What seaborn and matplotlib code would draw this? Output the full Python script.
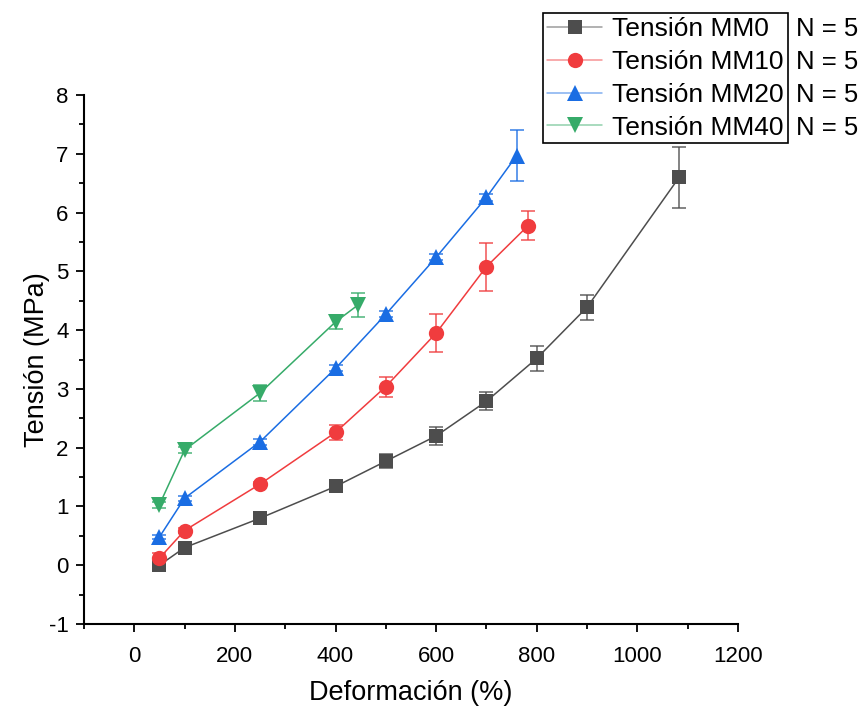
import numpy as np
import pandas as pd
import matplotlib
matplotlib.use("Agg")
import matplotlib.pyplot as plt
from matplotlib.ticker import MultipleLocator
from matplotlib.colors import to_rgb
import seaborn as sns

# Stress-strain means and standard deviations for each blend
mm0_x = [50, 100, 250, 400, 500, 600, 700, 800, 900, 1083]
mm0_y = [0.00, 0.30, 0.80, 1.34, 1.77, 2.20, 2.79, 3.52, 4.39, 6.60]
mm0_err = [0.03, 0.03, 0.04, 0.05, 0.12, 0.15, 0.155, 0.21, 0.21, 0.52]

mm10_x = [50, 100, 250, 400, 500, 600, 700, 783]
mm10_y = [0.12, 0.59, 1.38, 2.26, 3.04, 3.95, 5.08, 5.78]
mm10_err = [0.08, 0.04, 0.04, 0.13, 0.17, 0.32, 0.41, 0.24]

mm20_x = [50, 100, 250, 400, 500, 600, 700, 760]
mm20_y = [0.48, 1.14, 2.10, 3.35, 4.27, 5.24, 6.26, 6.97]
mm20_err = [0.04, 0.04, 0.05, 0.05, 0.05, 0.05, 0.06, 0.44]

mm40_x = [50, 100, 250, 400, 445]
mm40_y = [1.03, 1.96, 2.93, 4.14, 4.43]
mm40_err = [0.05, 0.05, 0.13, 0.12, 0.21]

labels = ["Tensión MM0", "Tensión MM10", "Tensión MM20", "Tensión MM40"]
sample_sizes = [5, 5, 5, 5]
colors = ["#4d4d4d", "#f03c3e", "#1a6de3", "#36ab69"]
markers = ["s", "o", "^", "v"]
msizes = [9.5, 11, 12, 12]

series = [
    (mm0_x, mm0_y, mm0_err),
    (mm10_x, mm10_y, mm10_err),
    (mm20_x, mm20_y, mm20_err),
    (mm40_x, mm40_y, mm40_err),
]

sns.set_theme(style="ticks")
plt.rcParams["font.family"] = ["Liberation Sans", "DejaVu Sans"]
plt.rcParams["axes.unicode_minus"] = False
plt.rcParams["text.color"] = "black"
plt.rcParams["axes.labelcolor"] = "black"

fig = plt.figure(figsize=(8.62, 7.07), dpi=100)
ax = fig.add_axes([0.0974, 0.1174, 0.7588, 0.7482])

for (xs, ys, es), lab, col, mk, ms in zip(series, labels, colors, markers, msizes):
    df = pd.DataFrame({"x": xs, "y": ys})
    ax.errorbar(xs, ys, yerr=es, fmt="none", ecolor=col, alpha=0.75,
                elinewidth=1.3, capsize=5, capthick=1.3, zorder=2)
    sns.lineplot(data=df, x="x", y="y", ax=ax, color=col, linewidth=1.1,
                 marker=mk, markersize=ms, markeredgewidth=0,
                 markerfacecolor=col, label=lab, zorder=3, sort=False)

ax.set_xlim(-100, 1200)
ax.set_ylim(-1, 8)
ax.xaxis.set_major_locator(MultipleLocator(200))
ax.xaxis.set_minor_locator(MultipleLocator(100))
ax.yaxis.set_major_locator(MultipleLocator(1))
ax.yaxis.set_minor_locator(MultipleLocator(0.5))
ax.tick_params(which="major", direction="out", length=6, width=1.3,
               labelsize=16, colors="black")
ax.tick_params(axis="x", which="major", pad=10)
ax.tick_params(axis="y", which="major", pad=5)
ax.tick_params(which="minor", direction="out", length=3.5, width=1.3,
               colors="black")
for side in ["top", "right"]:
    ax.spines[side].set_visible(False)
for side in ["left", "bottom"]:
    ax.spines[side].set_linewidth(1.5)
    ax.spines[side].set_color("black")

ax.set_xlabel("Deformación (%)", fontsize=19.5, labelpad=9, color="black")
ax.set_ylabel("Tensión (MPa)", fontsize=19.5, labelpad=-1, color="black")

leg = ax.legend(loc="upper left", bbox_to_anchor=(0.630, 0.981),
                bbox_transform=fig.transFigure, fontsize=19, frameon=True,
                fancybox=False, edgecolor="black", framealpha=1,
                handlelength=2.1, handletextpad=0.38, labelspacing=0.33,
                borderpad=0.15, borderaxespad=0, labelcolor="black")
leg.get_frame().set_linewidth(1.2)
for h, col in zip(leg.get_lines(), colors):
    r, g, b = to_rgb(col)
    h.set_color((r, g, b, 0.55))
    h.set_markerfacecolor(col)
    h.set_markeredgecolor(col)

# Sample size next to each legend entry
fig.canvas.draw()
renderer = fig.canvas.get_renderer()
bbox = leg.get_window_extent(renderer)
for txt, n in zip(leg.get_texts(), sample_sizes):
    tb = txt.get_window_extent(renderer)
    yc = (tb.y0 + tb.y1) / 2
    fig.text((bbox.x1 + 8) / fig.bbox.width, yc / fig.bbox.height,
             f"N = {n}", fontsize=18.5, va="center", ha="left", color="black")

fig.savefig("out.png", dpi=100)
